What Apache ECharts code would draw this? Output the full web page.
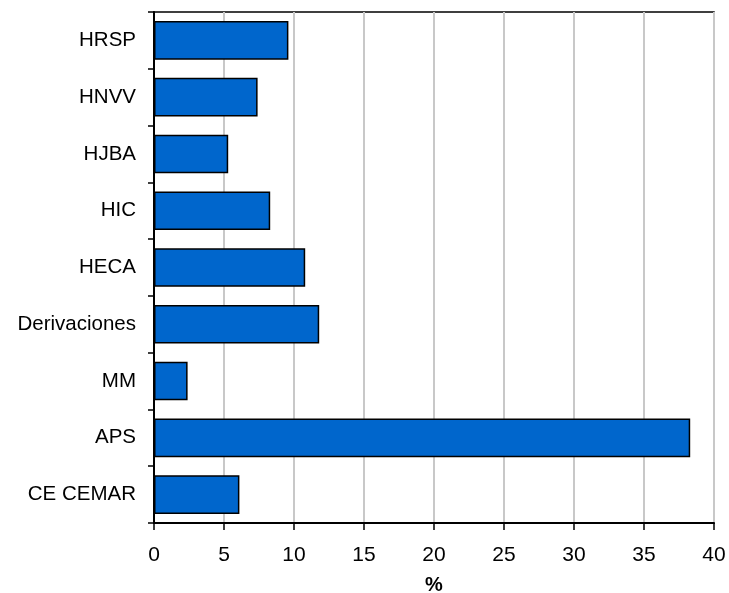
<!DOCTYPE html>
<html>
<head>
<meta charset="utf-8">
<script src="https://cdn.jsdelivr.net/npm/echarts@6/dist/echarts.min.js"></script>
<style>
  html, body { margin: 0; padding: 0; background: #fff; }
  #chart { width: 729px; height: 593px; }
</style>
</head>
<body>
<div id="chart"></div>
<script>
// data
var categories = ['HRSP', 'HNVV', 'HJBA', 'HIC', 'HECA', 'Derivaciones', 'MM', 'APS', 'CE CEMAR'];
var values = [9.6, 7.4, 5.3, 8.3, 10.8, 11.8, 2.4, 38.3, 6.1];
var xTicks = [0, 5, 10, 15, 20, 25, 30, 35, 40];

var chart = echarts.init(document.getElementById('chart'));
var font = 'Liberation Sans, Arial, sans-serif';

var option = {
    backgroundColor: '#fff',
    animation: false,
    grid: {
        left: 154, right: 15, top: 12, bottom: 70,
        outerBoundsMode: 'none',
        containLabel: false,
        show: true,
        borderColor: '#000',
        borderWidth: 1.5
    },
    xAxis: {
        type: 'value',
        min: xTicks[0],
        max: xTicks[xTicks.length - 1],
        interval: 5,
        name: '%',
        nameLocation: 'middle',
        nameGap: 52,
        nameTextStyle: { fontFamily: font, fontSize: 20, fontWeight: 'bold', color: '#000' },
        axisLine: { show: true, lineStyle: { color: '#000', width: 2 } },
        axisTick: { show: true, length: 7, lineStyle: { color: '#000', width: 1.5 } },
        axisLabel: { fontFamily: font, fontSize: 21, color: '#000', margin: 22 },
        splitLine: { show: true, lineStyle: { color: '#c8c8c8', width: 2 } }
    },
    yAxis: {
        type: 'category',
        data: categories,
        inverse: true,
        axisLine: { show: true, lineStyle: { color: '#000', width: 2 } },
        axisTick: { show: true, length: 6, lineStyle: { color: '#000', width: 1.5 } },
        axisLabel: { fontFamily: font, fontSize: 20.5, color: '#000', margin: 18 },
        splitLine: { show: false }
    },
    series: [{
        type: 'bar',
        data: values,
        barCategoryGap: '32%',
        itemStyle: {
            color: '#0066cc',
            borderColor: '#000',
            borderWidth: 1.5
        }
    }]
};
chart.setOption(option);
</script>
</body>
</html>
